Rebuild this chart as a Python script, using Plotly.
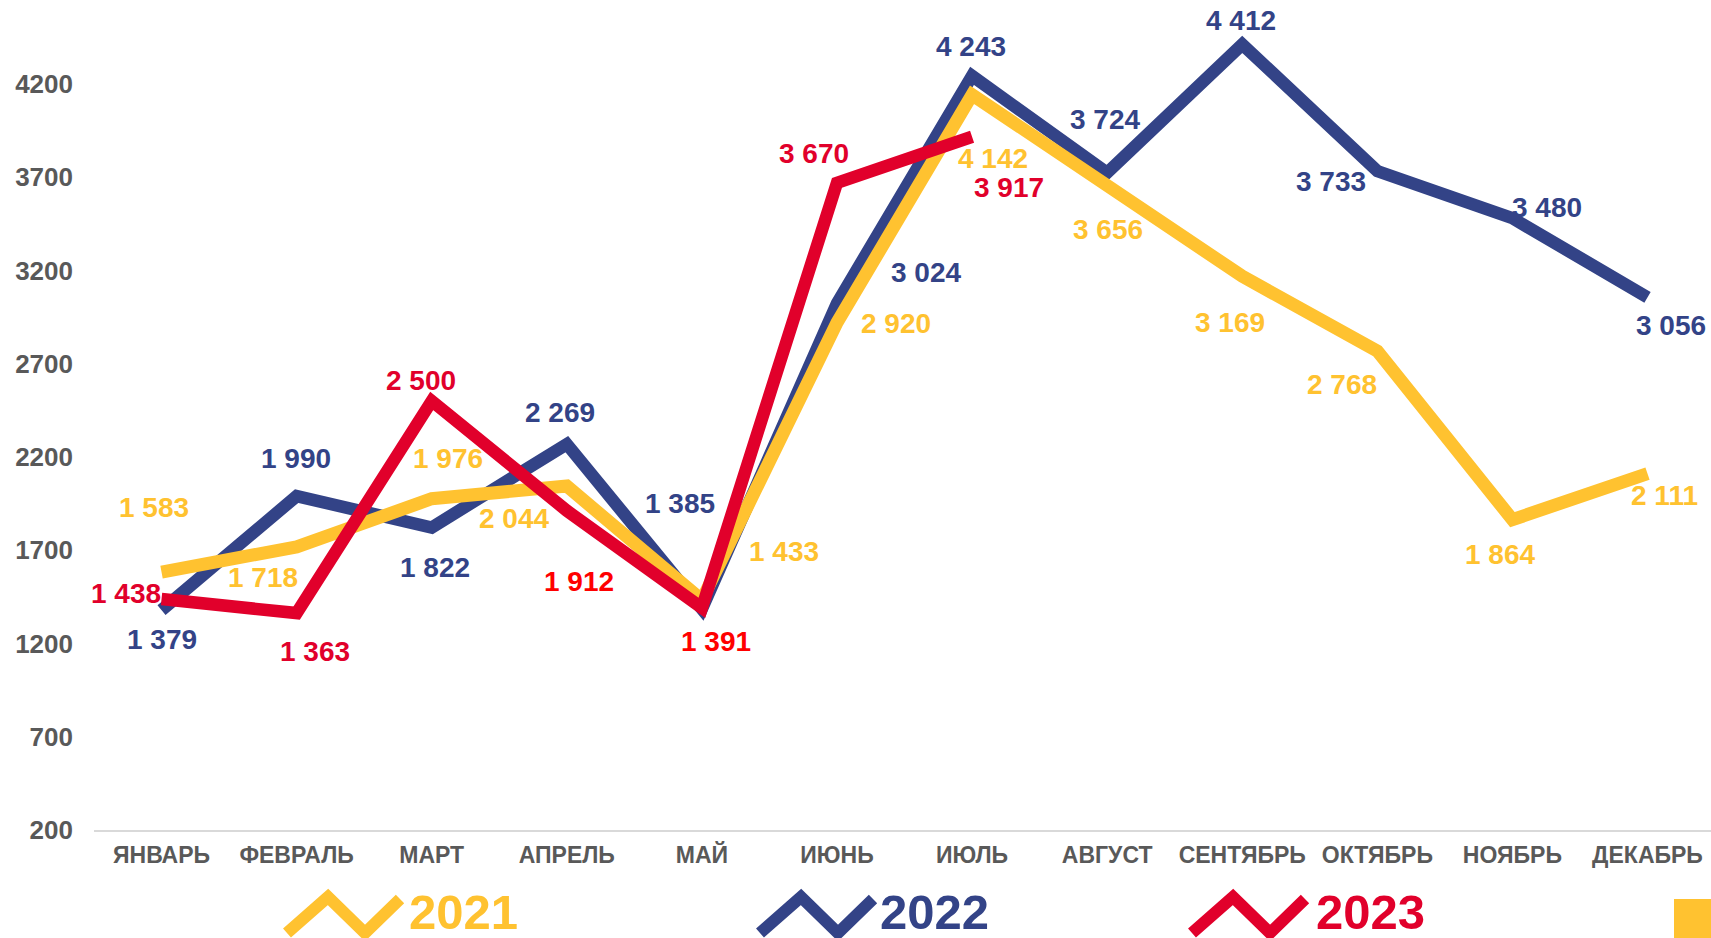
import plotly.graph_objects as go

months = ["ЯНВАРЬ", "ФЕВРАЛЬ", "МАРТ", "АПРЕЛЬ", "МАЙ", "ИЮНЬ", "ИЮЛЬ",
          "АВГУСТ", "СЕНТЯБРЬ", "ОКТЯБРЬ", "НОЯБРЬ", "ДЕКАБРЬ"]
y2021 = [1583, 1718, 1976, 2044, 1433, 2920, 4142, 3656, 3169, 2768, 1864, 2111]
y2022 = [1379, 1990, 1822, 2269, 1385, 3024, 4243, 3724, 4412, 3733, 3480, 3056]
y2023 = [1438, 1363, 2500, 1912, 1391, 3670, 3917]
series_names = ["2021", "2022", "2023"]
ytick_vals = [200, 700, 1200, 1700, 2200, 2700, 3200, 3700, 4200]

# label offsets in pixels (dx right, dy down) - styling
off2021 = [(-8, -65), (-34, 31), (16, -40), (-53, 32), (82, -49), (59, 1),
           (21, 64), (1, 44), (-12, 46), (-35, 33), (-12, 35), (17, 22)]
off2022 = [(0, 29), (-1, -38), (3, 40), (-7, -32), (-22, -105), (89, -31),
           (-1, -29), (-2, -53), (-1, -24), (-46, 10), (35, -11), (23, 28)]
off2023 = [(-36, -6), (18, 38), (-11, -21), (12, 71), (14, 34), (-23, -29), (37, 51)]

YELLOW = "#FFC230"
BLUE = "#334387"
RED = "#E1002B"
BRIGHT_RED = "#FF0000"
GRAY = "#595959"
col2023 = [RED, RED, RED, BRIGHT_RED, BRIGHT_RED, RED, RED]

W, H = 1711, 938
L, R, T, B = 94, 0, 0, 108
PW, PH = W - L - R, H - T - B

FONT = "Liberation Sans, Arial, sans-serif"

def fmt(v):
    return f"{v:,}".replace(",", " ")

fig = go.Figure()
fig.add_trace(go.Scatter(x=months, y=y2022, mode="lines", name="2022",
                         line=dict(color=BLUE, width=12.5), hoverinfo="skip"))
fig.add_trace(go.Scatter(x=months, y=y2021, mode="lines", name="2021",
                         line=dict(color=YELLOW, width=13), hoverinfo="skip"))
fig.add_trace(go.Scatter(x=months[:len(y2023)], y=y2023, mode="lines", name="2023",
                         line=dict(color=RED, width=12.5), hoverinfo="skip"))

annotations = []
def add_labels(vals, offs, colors):
    for i, v in enumerate(vals):
        c = colors[i] if isinstance(colors, list) else colors
        dx, dy = offs[i]
        annotations.append(dict(x=months[i], y=v, xref="x", yref="y", text=fmt(v),
                                showarrow=False, xshift=dx, yshift=-dy,
                                font=dict(family=FONT, size=28, color=c, weight="bold")))

add_labels(y2022, off2022, BLUE)
add_labels(y2021, off2021, YELLOW)
add_labels(y2023, off2023, col2023)

def px(x):
    return (x - L) / PW

def py(y):
    return (T + PH - y) / PH

shapes = []
legend_items = [(series_names[0], YELLOW, 287, 407),
                (series_names[1], BLUE, 760, 878),
                (series_names[2], RED, 1192, 1314)]
for name, col, x0, tx in legend_items:
    pts = [(x0, 933), (x0 + 41, 897), (x0 + 78, 933), (x0 + 113, 899)]
    path = "M " + " L ".join(f"{px(a):.5f},{py(b):.5f}" for a, b in pts)
    shapes.append(dict(type="path", path=path, xref="paper", yref="paper",
                       line=dict(color=col, width=12)))
    annotations.append(dict(x=px(tx), y=py(912), xref="paper", yref="paper",
                            xanchor="left", yanchor="middle", text=name, showarrow=False,
                            font=dict(family=FONT, size=49, color=col, weight="bold")))

shapes.append(dict(type="rect", xref="paper", yref="paper",
                   x0=px(1674), x1=px(1711), y0=py(899), y1=py(945),
                   fillcolor=YELLOW, line=dict(width=0)))

fig.update_layout(
    width=W, height=H,
    margin=dict(l=L, r=R, t=T, b=B, pad=0),
    plot_bgcolor="white", paper_bgcolor="white",
    showlegend=False,
    annotations=annotations,
    shapes=shapes,
    xaxis=dict(type="category", range=[-0.5, 11.47], showgrid=False, zeroline=False,
               showline=True, linecolor="#D9D9D9", linewidth=2, ticks="",
               tickfont=dict(family=FONT, size=23, color=GRAY, weight="bold"),
               ticklabelstandoff=3),
    yaxis=dict(range=[200, 4650], tickvals=ytick_vals,
               ticktext=[str(v) for v in ytick_vals],
               showgrid=False, zeroline=False, showline=False, ticks="",
               tickfont=dict(family=FONT, size=26, color=GRAY, weight="bold"),
               ticklabelstandoff=20),
)

fig.write_html("out.html", config={"displayModeBar": False},
               post_script="document.body.style.margin='0';document.body.style.overflow='hidden';")
